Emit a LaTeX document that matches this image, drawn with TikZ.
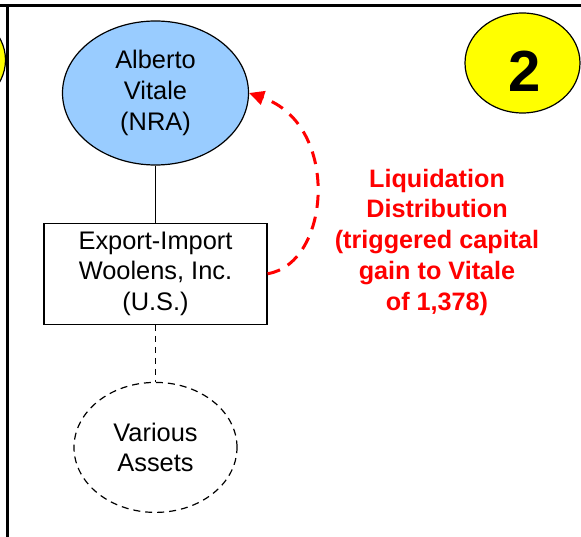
\documentclass[tikz,border=0pt]{standalone}
\usepackage{fontspec}
\setmainfont{Liberation Sans}
\usepackage{xcolor}
\usepackage{tikz}
\usetikzlibrary{positioning,arrows.meta,shapes.geometric}

\definecolor{nrablue}{HTML}{99CCFF}
\definecolor{stepyellow}{HTML}{FFFF00}

\begin{document}
\begin{tikzpicture}[
      x=1pt, y=-1pt,
      >=Stealth,
      node distance=57pt,
      txt/.style={font=\fontsize{25.4}{30.6}\selectfont,align=center},
      person/.style={txt,ellipse,draw,line width=1.2pt,fill=nrablue,inner sep=0pt,minimum width=186pt,minimum height=144pt},
      corp/.style={txt,draw,line width=1.2pt,inner sep=0pt,minimum width=223pt,minimum height=101pt},
      asset/.style={txt,ellipse,draw,dashed,dash pattern=on 7pt off 5pt,line width=1.2pt,inner sep=0pt,minimum width=163pt,minimum height=130pt},
      badge/.style={ellipse,draw,line width=1.2pt,fill=stepyellow,minimum width=115pt,minimum height=100pt,inner sep=0pt},
      note/.style={font=\fontsize{25.2}{30.75}\selectfont\bfseries,text=red,align=center},
    ]
    \useasboundingbox (0,0) rectangle (581,537);

    % Step badges
    \node[badge] (prevstep) at (-52,60) {};
    \node[badge] (stepbadge) at (522.5,63) {};
    \node[font=\fontsize{58}{60}\selectfont\bfseries] (stepnum) at (525,71) {2};

    % Frame
    \draw[line width=3pt] (0,5.5) -- (581,5.5);
    \draw[line width=3pt] (7.5,5.5) -- (7.5,537);

    % Nodes
    \node[person] (alberto) at (155.5,93) {Alberto\\Vitale\\(NRA)};
    \node[corp, below=of alberto] (exim) {Export-Import\\Woolens, Inc.\\(U.S.)};
    \node[asset, below=of exim] (assets) {Various\\Assets};
    \node[note] (liqnote) at (437,242) {Liquidation\\Distribution\\(triggered capital\\gain to Vitale\\of 1,378)};

    % Arrows
    \draw[line width=1.2pt] (alberto) -- (exim);
    \draw[line width=1.2pt,dash pattern=on 6pt off 5pt] (exim) -- (assets);
    \draw[red,line width=3pt,dash pattern=on 13pt off 9pt,-{Triangle[length=15pt,width=14pt]}]
      (exim.east) .. controls +(63,-10) and +(92,32) .. (alberto.east);
  \end{tikzpicture}
\end{document}
